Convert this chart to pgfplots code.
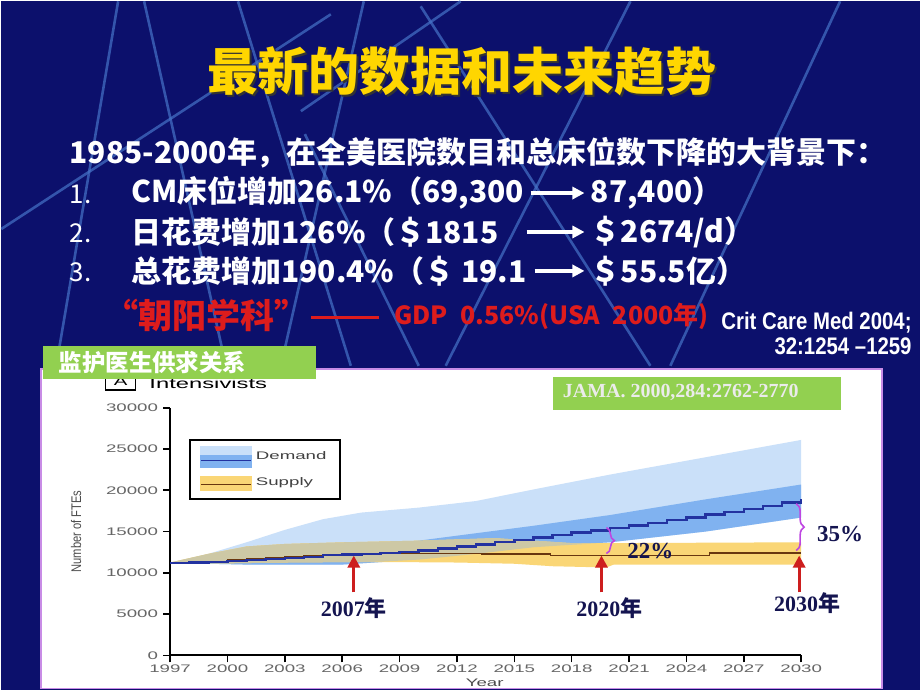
\documentclass[border=0pt]{standalone}
\usepackage{fontspec}
\usepackage{pgfplots}
\usepackage{pgfplotstable}
\pgfplotsset{compat=1.18}
\usetikzlibrary{arrows.meta,decorations.pathreplacing}
\setmainfont{Liberation Sans}
\newfontfamily\cjk{Noto Sans CJK SC}
\newfontfamily\chartfont{Liberation Sans}[FakeStretch=1.7]
\newfontfamily\ylabfont{Liberation Sans}[FakeStretch=0.8]
\newfontfamily\narrowfont{Liberation Sans}[FakeStretch=0.85]
\newfontfamily\tnr{Liberation Serif}

\definecolor{bg}{RGB}{12,16,108}
\definecolor{bgline}{RGB}{70,115,200}
\definecolor{ttl}{RGB}{255,214,0}
\definecolor{redtxt}{RGB}{222,28,28}
\definecolor{greenbox}{RGB}{146,208,80}
\definecolor{panelborder}{RGB}{200,140,230}
\definecolor{dOuter}{RGB}{202,224,249}
\definecolor{dInner}{RGB}{128,178,240}
\definecolor{dLine}{RGB}{35,50,160}
\definecolor{sBand}{RGB}{250,214,118}
\definecolor{overlap}{RGB}{205,200,165}
\definecolor{sLine}{RGB}{105,55,15}
\definecolor{navytxt}{RGB}{20,20,80}
\definecolor{arrowred}{RGB}{205,30,30}
\definecolor{bracec}{RGB}{190,70,225}

% demand, outer range: upper edge forward, lower edge back
\pgfplotstableread{
year fte
1997 11200
1999 12300
2001 13700
2003 15200
2005 16500
2007 17300
2010 17900
2013 18700
2016 20100
2020 21900
2025 24000
2030 26100
2030 16700
2025 15000
2020 13700
2016 13100
2013 12300
2010 11600
2006 11000
2001 11000
1999 11100
1997 11200
}\demandouter

% demand, inner range
\pgfplotstableread{
year fte
1997 11200
1999 11500
2001 11900
2003 12300
2005 12700
2007 13100
2010 13900
2013 14800
2016 15700
2020 17000
2025 18900
2030 20700
2030 16700
2025 15000
2020 13700
2016 13100
2013 12300
2010 11600
2006 11000
2001 11000
1999 11100
1997 11200
}\demandinner

% supply range
\pgfplotstableread{
year fte
1997 11250
1999 12300
2001 13200
2003 13500
2006 13700
2010 13900
2014 14200
2016 13900
2018 13600
2020 13600
2025 13650
2030 13700
2030 11000
2025 11000
2020.2 11000
2019.8 10650
2017 10800
2015 11100
2012 11250
2009 11300
2006 11300
2003 11250
2000 11150
1997 11150
}\supplyband

% where the demand and supply ranges overlap
\pgfplotstableread{
year fte
1997 11250
1999 12300
2001 13200
2003 13500
2006 13700
2010 13900
2014 14200
2016 13900
2018 13600
2019.3 13560
2018 13400
2016 13100
2013 12300
2010 11600
2008 11350
2006 11300
2003 11250
2000 11150
1997 11200
}\overlapband

\pgfplotstableread{
year fte
1997 11200
1998 11250
1999 11300
2000 11400
2001 11550
2002 11650
2003 11800
2004 11950
2005 12150
2006 12200
2007 12300
2008 12400
2009 12550
2010 12700
2011 12950
2012 13200
2013 13450
2014 13750
2015 14000
2016 14300
2017 14600
2018 14900
2019 15150
2020 15450
2021 15750
2022 16050
2023 16400
2024 16700
2025 17050
2026 17400
2027 17750
2028 18100
2029 18500
2030 18950
}\demandline

\pgfplotstableread{
year fte
1997 11200
1998 11300
1999 11400
2000 11550
2001 11700
2002 11800
2003 11900
2004 12050
2005 12150
2006 12250
2007 12350
2013.3 12300
2016.9 12100
2025.2 12380
2030 12380
}\supplyline

\begin{document}
\begin{tikzpicture}[x=0.5pt,y=-0.5pt]
\fill[bg] (0,0) rectangle (920,690);

% background streaks
\begin{scope}[bgline, line width=1.3pt, opacity=0.7]
\draw (117,0) -- (55,365);
\draw (143,0) -- (225,365);
\draw (237,0) -- (350,365);
\draw (330,13) -- (0,228);
\draw (363,0) -- (280,365);
\draw (420,5) -- (650,365);
\draw (630,0) -- (445,365);
\draw (840,0) -- (670,365);
\draw (460,0) -- (300,110);
\draw (304,133) -- (418,365);
\end{scope}

% title
\node[text=black!80] at (463,72) {\cjk\bfseries\fontsize{25.5}{30}\selectfont 最新的数据和未来趋势};
\node[text=ttl] at (461,70) {\cjk\bfseries\fontsize{25.5}{30}\selectfont 最新的数据和未来趋势};

% body text
\begin{scope}[every node/.style={text=white, inner sep=0pt, font=\cjk\bfseries\fontsize{15}{18}\selectfont}]
\node[anchor=west] at (68,152) {1985-2000年，在全美医院数目和总床位数下降的大背景下：};
\node[anchor=west] at (130,192) {CM床位增加26.1\%（69,300};
\node[anchor=west] at (590,192) {87,400）};
\node[anchor=west] at (130,231) {日花费增加126\%（＄1815};
\node[anchor=west] at (590,231) {＄2674/d）};
\node[anchor=west] at (130,270) {总花费增加190.4\%（＄ 19.1};
\node[anchor=west] at (590,270) {＄55.5亿）};
\end{scope}
\begin{scope}[every node/.style={text=white, inner sep=0pt, font=\cjk\fontsize{13}{16}\selectfont}]
\node[anchor=west] at (68,193) {1.};
\node[anchor=west] at (68,232) {2.};
\node[anchor=west] at (68,271) {3.};
\end{scope}
\begin{scope}[white, line width=1.6pt, -{Triangle[length=6pt,width=6pt]}]
\draw (530,192) -- (584,192);
\draw (526,231) -- (584,231);
\draw (534,270) -- (584,270);
\end{scope}

\node[anchor=west, text=redtxt, inner sep=0pt] at (103,315) {\cjk\bfseries\fontsize{17}{20}\selectfont “朝阳学科”};
\draw[redtxt, line width=1.5pt] (310,317) -- (378,317);
\node[anchor=west, text=redtxt, inner sep=0pt] at (393,315) {\cjk\bfseries\fontsize{12.5}{15}\selectfont GDP\enspace 0.56\%(USA\enspace 2000年)};
\node[anchor=east, text=white, inner sep=0pt] at (912,322) {\narrowfont\bfseries\fontsize{12}{14}\selectfont Crit Care Med 2004;};
\node[anchor=east, text=white, inner sep=0pt] at (912,345) {\narrowfont\bfseries\fontsize{12}{14}\selectfont 32:1254 –1259};

% white chart panel
\filldraw[fill=white, draw=panelborder, line width=0.8pt] (40,368) rectangle (882,688);

% panel heading of the figure
\node[draw=black, line width=0.8pt, minimum width=15pt, minimum height=8pt, inner sep=0pt] at (119.5,381) {\chartfont\fontsize{6}{7}\selectfont A};
\node[anchor=west, inner sep=0pt] at (148,383) {\chartfont\fontsize{7}{8}\selectfont Intensivists};

\fill[greenbox] (42,345) rectangle (315,378);
\node[anchor=west, text=white, inner sep=0pt] at (57,362) {\cjk\bfseries\fontsize{11.75}{14}\selectfont 监护医生供求关系};

\fill[greenbox] (552,376) rectangle (841,409);
\node[anchor=west, text=white!92!black, inner sep=0pt] at (562,392) {\tnr\bfseries\fontsize{10}{12}\selectfont JAMA. 2000,284:2762-2770};

\begin{scope}[x={(1cm,0cm)}, y={(0cm,1cm)}]
\begin{axis}[
    at={(84.5pt,-327.5pt)}, anchor=south west,
    scale only axis,
    width=316pt, height=124pt,
    xmin=1997, xmax=2030,
    ymin=0, ymax=30000,
    axis lines*=left,
    axis line style={line width=1pt},
    xtick={1997,2000,...,2030},
    minor x tick num=2,
    ytick={0,5000,...,30000},
    scaled y ticks=false,
    tick align=outside,
    major tick length=3.5pt,
    minor tick length=2pt,
    tick style={black, line width=0.8pt},
    every tick label/.append style={font=\chartfont\fontsize{5.5}{6}\selectfont, text=black!60},
    xticklabel style={yshift=2.5pt},
    yticklabel style={xshift=1pt},
    /pgf/number format/1000 sep={},
    /pgf/number format/assume math mode=true,
    clip=false,
    legend cell align=left,
    legend style={
        at={(0.03,0.875)}, anchor=north west,
        draw=black, line width=1pt,
        inner xsep=5pt, inner ysep=3pt, row sep=3pt,
        font=\chartfont\fontsize{5.5}{6}\selectfont, text=black!75,
    },
]
\addlegendimage{legend image code/.code={
    \fill[dOuter] (0pt,-5pt) rectangle (25pt,5pt);
    \fill[dInner] (0pt,-5pt) rectangle (25pt,0.3pt);
    \draw[dLine, line width=0.5pt] (0pt,-1.7pt) -- (25pt,-1.7pt);}}
\addlegendentry{Demand}
\addlegendimage{legend image code/.code={
    \fill[sBand] (0pt,-3.3pt) rectangle (25pt,3.3pt);
    \draw[sLine, line width=0.5pt] (0pt,-0.7pt) -- (25pt,-0.7pt);}}
\addlegendentry{Supply}

\addplot[fill=dOuter, draw=none, forget plot] table[x=year, y=fte] {\demandouter};
\addplot[fill=dInner, draw=none, forget plot] table[x=year, y=fte] {\demandinner};
\addplot[fill=sBand, draw=none, forget plot] table[x=year, y=fte] {\supplyband};
\addplot[fill=overlap, draw=none, forget plot] table[x=year, y=fte] {\overlapband};

\addplot[const plot, sLine, line width=0.7pt, forget plot] table[x=year, y=fte] {\supplyline};
\addplot[const plot, dLine, line width=1.2pt, forget plot] table[x=year, y=fte] {\demandline};
\end{axis}
\end{scope}

% axis titles
\node[rotate=90, text=black!70] at (75,531) {\ylabfont\fontsize{7}{8}\selectfont Number of FTEs};
\node[text=black!70] at (484,682) {\chartfont\fontsize{5.5}{6}\selectfont Year};

% annotations
\begin{scope}[arrowred, line width=1.5pt, -{Triangle[length=6pt,width=6pt]}]
\draw (353,592) -- (353,555);
\draw (601,592) -- (601,555);
\draw (799,592) -- (799,555);
\end{scope}
\begin{scope}[text=navytxt, font=\tnr\bfseries\fontsize{11}{13}\selectfont]
\node at (353,608) {2007{\cjk\bfseries 年}};
\node at (609,608) {2020{\cjk\bfseries 年}};
\node at (807,603) {2030{\cjk\bfseries 年}};
\node at (650,550) {\fontsize{11.5}{13}\selectfont 22\%};
\node at (840,533) {\fontsize{11.5}{13}\selectfont 35\%};
\end{scope}
\draw[bracec, line width=0.8pt, decorate, decoration={brace, amplitude=4pt}] (606,527) -- (606,553);
\draw[bracec, line width=0.8pt, decorate, decoration={brace, amplitude=4pt}] (796,503) -- (796,550);
\end{tikzpicture}
\end{document}
